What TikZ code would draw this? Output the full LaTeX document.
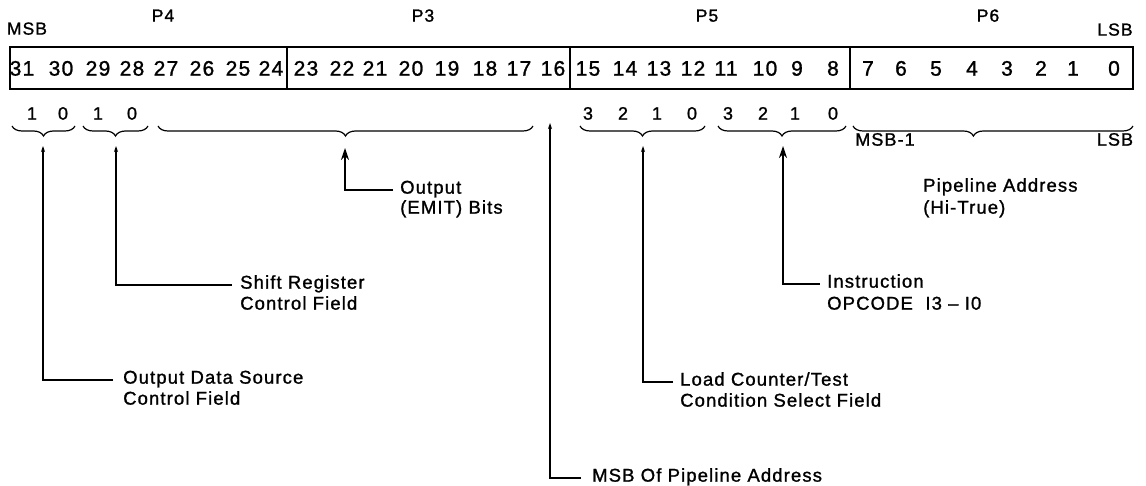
\documentclass[tikz,border=0pt]{standalone}
\usepackage{fontspec}
\setmainfont{Liberation Sans}[LetterSpace=6,FakeBold=1.2]
\usetikzlibrary{arrows.meta,decorations.pathreplacing}
\begin{document}
\begin{tikzpicture}[x=1pt,y=-1pt,
  txt/.style={inner sep=0pt,text height=1.38ex,text depth=0pt},
  bitnum/.style={txt,font=\fontsize{21}{24}\selectfont},
  subnum/.style={txt,font=\fontsize{18}{22}\selectfont},
  toplab/.style={txt,font=\fontsize{17.5}{20}\selectfont},
  lab/.style={txt,anchor=west,font=\fontsize{18.5}{22}\selectfont},
  frame/.style={line width=2.6pt},
  fbrace/.style={line width=1.2pt,decorate,decoration={brace,mirror,amplitude=10pt}},
  arrS/.style={line width=1.2pt,-{Stealth[length=6pt,width=4pt]}},
  arrB/.style={line width=1.3pt,-{Stealth[length=12pt,width=8pt]}},
]
\useasboundingbox (0,0) rectangle (1146,486);
% register frame
\draw[frame] (10,47) rectangle (1133,89);
\draw[frame] (287,47) -- (287,89);
\draw[frame] (570,47) -- (570,89);
\draw[frame] (850,47) -- (850,89);
% top labels
\node[toplab] (msb) at (27,31) {MSB};
\node[toplab] (p4) at (163,18) {P4};
\node[toplab] (p3) at (423,18) {P3};
\node[toplab] (p5) at (707,18) {P5};
\node[toplab] (p6) at (988,18) {P6};
\node[toplab] (lsb) at (1115,32) {LSB};
% bit numbers
\foreach \n/\x in {31/22,30/61,29/98,28/132,27/166,26/202,25/238,24/271,
  23/306,22/342,21/375,20/411,19/447,18/485,17/519,16/553,
  15/588,14/625,13/659,12/693,11/726,10/765,9/797,8/833,
  7/868,6/901,5/936,4/972,3/1007,2/1041,1/1073,0/1114}
  \node[bitnum] (b\n) at (\x,72) {\n};
% sub-field digits
\foreach \i/\t/\x in {a/1/32,b/0/63,c/1/98,d/0/132,
  e/3/588,f/2/623,g/1/657,h/0/692,i/3/728,j/2/763,k/1/795,l/0/833}
  \node[subnum] (s\i) at (\x,116) {\t};
% braces
\draw[fbrace] (12,126) -- (75,126);
\draw[fbrace] (83,126) -- (148,126);
\draw[fbrace] (158,126) -- (533,126);
\draw[fbrace] (580,126) -- (705,126);
\draw[fbrace] (718,126) -- (846,126);
\draw[fbrace,decoration={aspect=0.43}] (853,126) -- (1133,126);
\node[subnum] (msbm1) at (885,142) {MSB-1};
\node[subnum] (lsb2) at (1115,142) {LSB};
% arrow tips
\coordinate (t1) at (43,146);
\coordinate (t2) at (116,146);
\coordinate (t3) at (345,148);
\coordinate (t4) at (550,123);
\coordinate (t5) at (643,146);
\coordinate (t6) at (783,146);
% labels
\node[lab] (l1a) at (113,380) {\hspace{10pt}Output Data Source};
\node[lab] (l1b) at (123,401) {Control Field};
\node[lab] (l2a) at (232,285) {\hspace{8pt}Shift Register};
\node[lab] (l2b) at (240,306) {Control Field};
\node[lab] (l3a) at (393,190) {\hspace{7pt}Output};
\node[lab] (l3b) at (400,210) {(EMIT) Bits};
\node[lab] (l4a) at (581,478) {\hspace{11pt}MSB Of Pipeline Address};
\node[lab] (l5a) at (673,382) {\hspace{7pt}Load Counter/Test};
\node[lab] (l5b) at (680,403) {Condition Select Field};
\node[lab] (l6a) at (820,284) {\hspace{7pt}Instruction};
\node[lab] (l6b) at (827,306) {OPCODE\ \ I3 -- I0};
\node[lab] (l7a) at (923,188) {Pipeline Address};
\node[lab] (l7b) at (923,210) {(Hi-True)};
% connectors
\draw[arrS] (l1a.west) -| (t1);
\draw[arrS] (l2a.west) -| (t2);
\draw[arrB] (l3a.west) -| (t3);
\draw[arrS] (l4a.west) -| (t4);
\draw[arrS] (l5a.west) -| (t5);
\draw[arrB] (l6a.west) -| (t6);
\end{tikzpicture}
\end{document}
